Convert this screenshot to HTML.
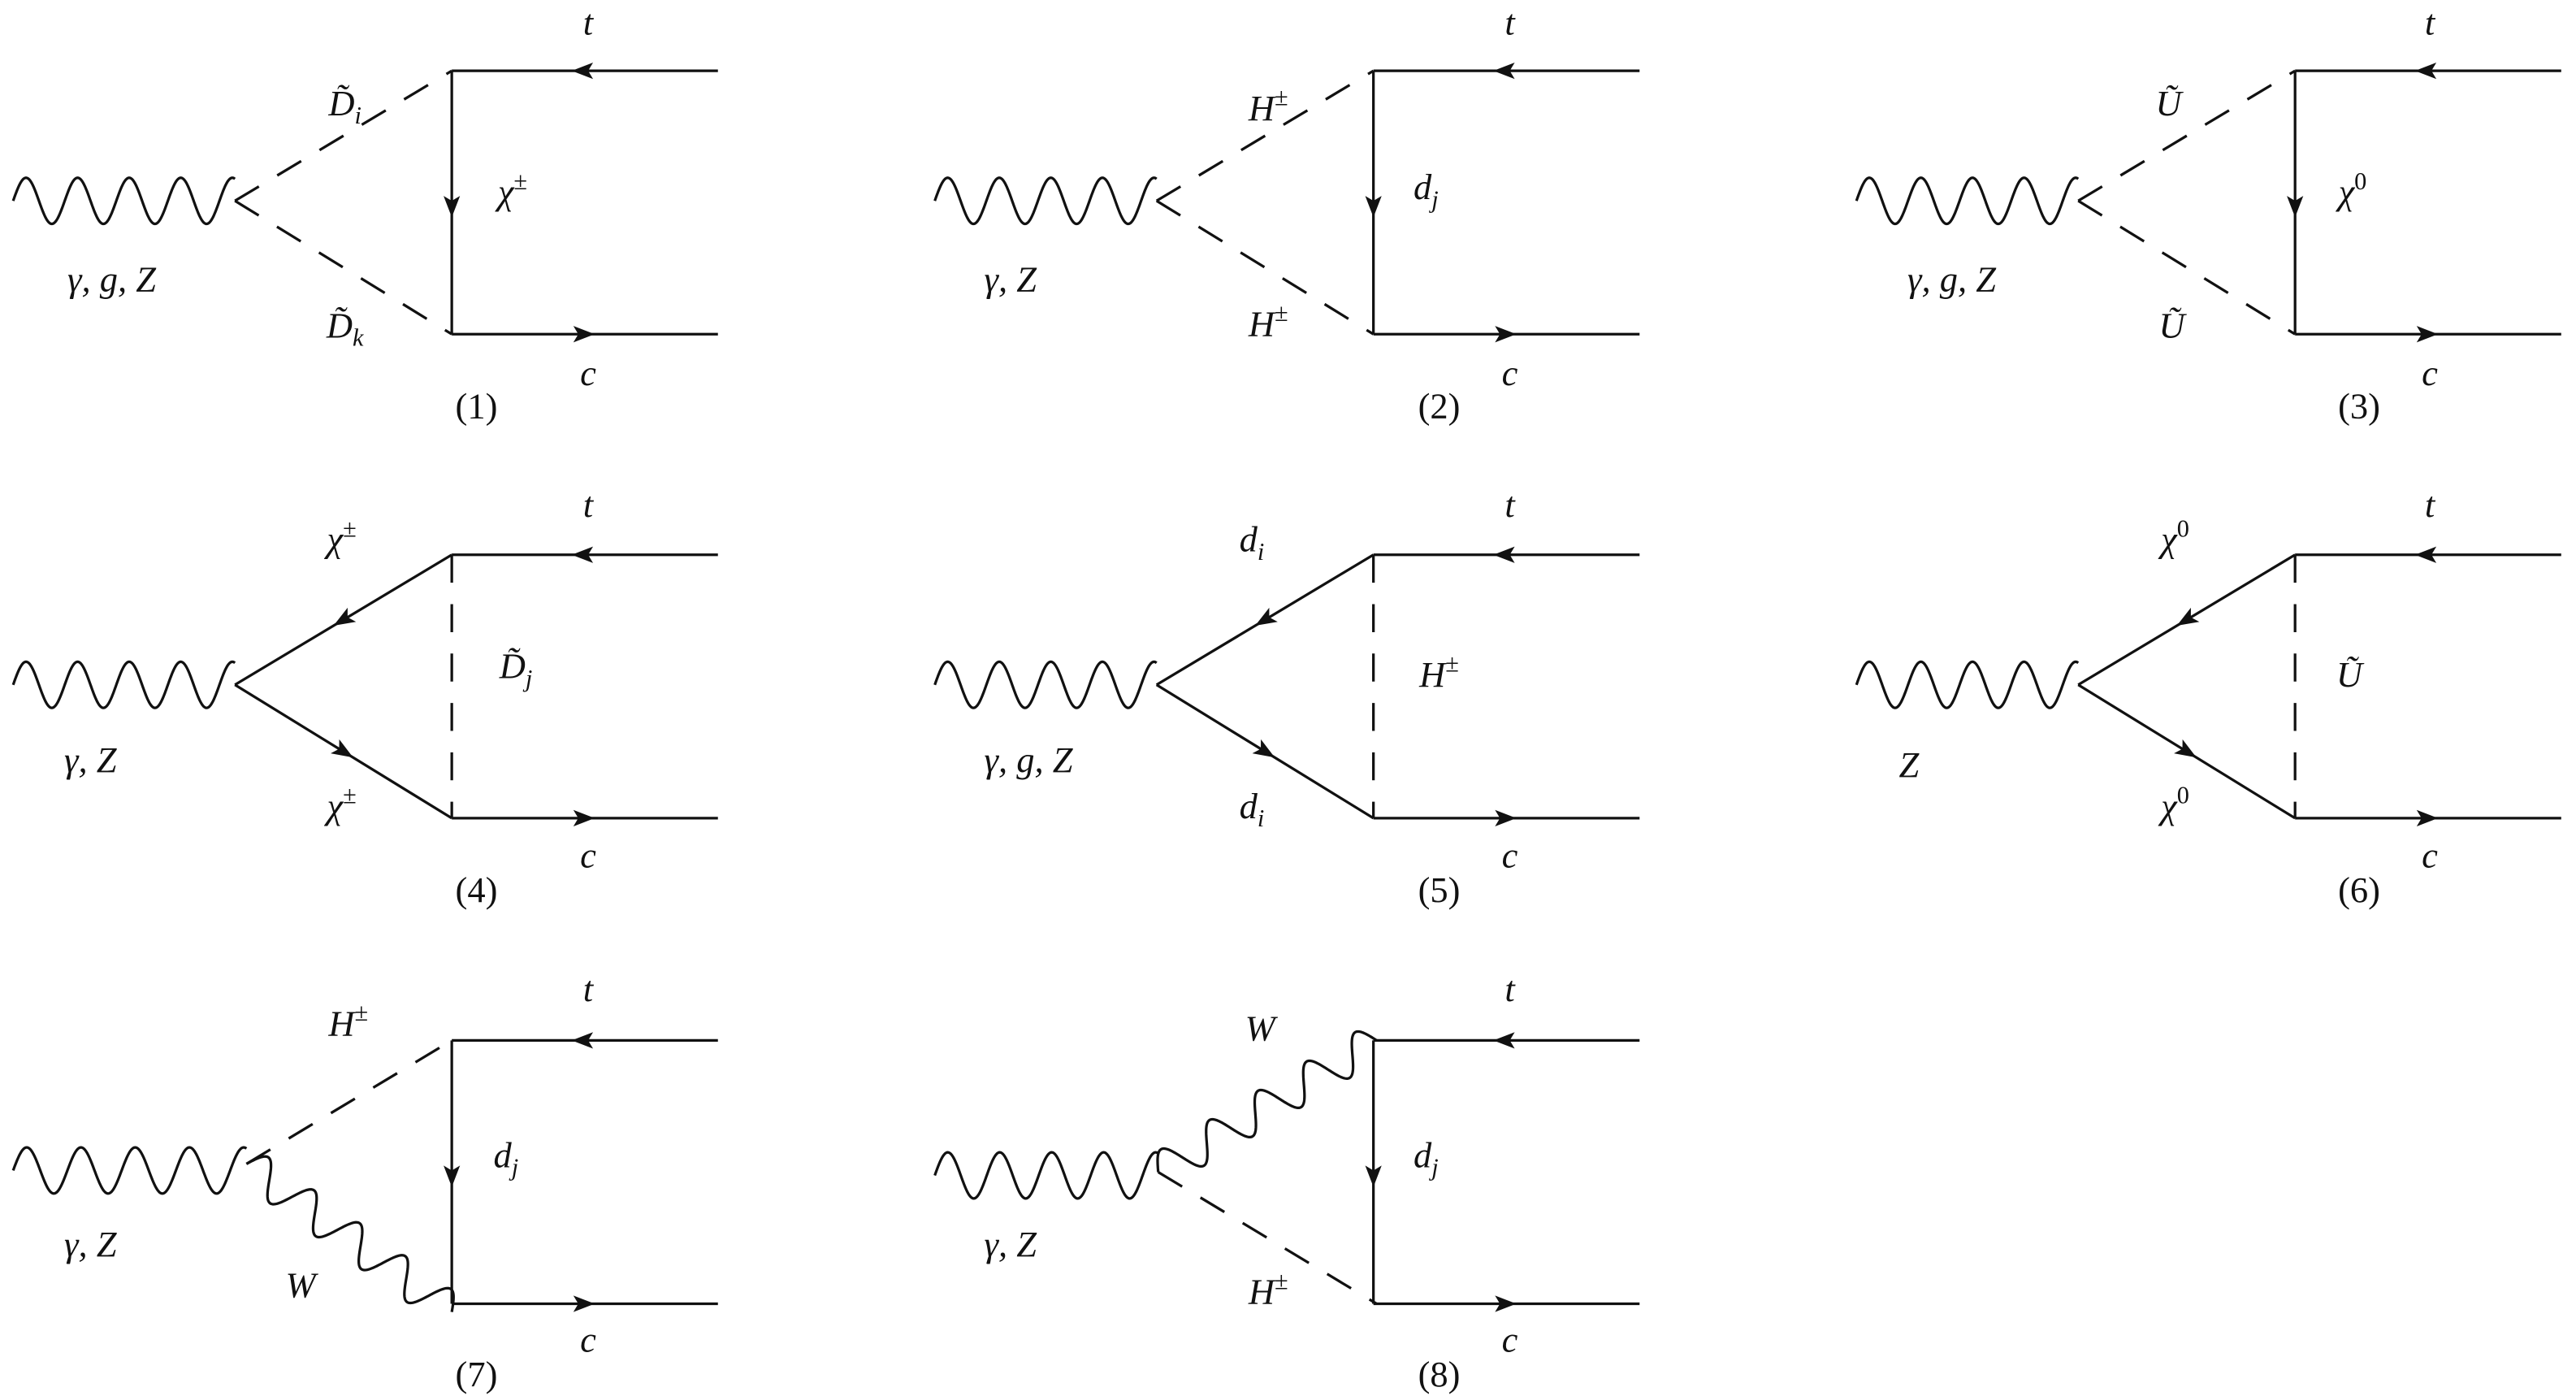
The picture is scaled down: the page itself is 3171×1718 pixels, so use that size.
<!DOCTYPE html>
<html><head><meta charset="utf-8"><style>
html,body{margin:0;padding:0;background:#fff;}
svg{display:block;}
text{font-family:"Liberation Serif",serif;font-style:italic;fill:#111;}
.n{font-style:normal;}
</style></head><body>
<svg id="s" width="3171" height="1718" viewBox="0 0 1568 848" preserveAspectRatio="none" xmlns="http://www.w3.org/2000/svg">
<g id="g" fill="none" stroke="#111" stroke-width="1.6"></g>
<g id="a" fill="#111" stroke="none"></g>
<g font-size="22" text-anchor="middle">
<text x="358" y="21">t</text><text x="358" y="234">c</text>
<text x="312" y="124">χ<tspan font-size="15" dy="-9" class="n">±</tspan></text>
<text x="210" y="70">D̃<tspan font-size="15" dy="5">i</tspan></text>
<text x="210" y="205">D̃<tspan font-size="15" dy="5">k</tspan></text>
<text x="68" y="177">γ, g, Z</text>
<text x="290" y="254" class="n">(1)</text>

<text x="919" y="21">t</text><text x="919" y="234">c</text>
<text x="868" y="121">d<tspan font-size="15" dy="5">j</tspan></text>
<text x="772" y="73">H<tspan font-size="15" dy="-9" class="n">±</tspan></text>
<text x="772" y="204">H<tspan font-size="15" dy="-9" class="n">±</tspan></text>
<text x="615" y="177">γ, Z</text>
<text x="876" y="254" class="n">(2)</text>

<text x="1479" y="21">t</text><text x="1479" y="234">c</text>
<text x="1432" y="124">χ<tspan font-size="15" dy="-9" class="n">0</tspan></text>
<text x="1320" y="70">Ũ</text>
<text x="1322" y="205">Ũ</text>
<text x="1188" y="177">γ, g, Z</text>
<text x="1436" y="254" class="n">(3)</text>

<text x="358" y="314">t</text><text x="358" y="527">c</text>
<text x="208" y="335">χ<tspan font-size="15" dy="-9" class="n">±</tspan></text>
<text x="208" y="497">χ<tspan font-size="15" dy="-9" class="n">±</tspan></text>
<text x="314" y="412">D̃<tspan font-size="15" dy="5">j</tspan></text>
<text x="55" y="469">γ, Z</text>
<text x="290" y="548" class="n">(4)</text>

<text x="919" y="314">t</text><text x="919" y="527">c</text>
<text x="762" y="335">d<tspan font-size="15" dy="5">i</tspan></text>
<text x="762" y="497">d<tspan font-size="15" dy="5">i</tspan></text>
<text x="876" y="417">H<tspan font-size="15" dy="-9" class="n">±</tspan></text>
<text x="626" y="469">γ, g, Z</text>
<text x="876" y="548" class="n">(5)</text>

<text x="1479" y="314">t</text><text x="1479" y="527">c</text>
<text x="1324" y="335">χ<tspan font-size="15" dy="-9" class="n">0</tspan></text>
<text x="1324" y="497">χ<tspan font-size="15" dy="-9" class="n">0</tspan></text>
<text x="1430" y="417">Ũ</text>
<text x="1162" y="472">Z</text>
<text x="1436" y="548" class="n">(6)</text>

<text x="358" y="608">t</text><text x="358" y="821">c</text>
<text x="212" y="629">H<tspan font-size="15" dy="-9" class="n">±</tspan></text>
<text x="183" y="788">W</text>
<text x="308" y="709">d<tspan font-size="15" dy="5">j</tspan></text>
<text x="55" y="763">γ, Z</text>
<text x="290" y="842" class="n">(7)</text>

<text x="919" y="608">t</text><text x="919" y="821">c</text>
<text x="767" y="632">W</text>
<text x="772" y="792">H<tspan font-size="15" dy="-9" class="n">±</tspan></text>
<text x="868" y="709">d<tspan font-size="15" dy="5">j</tspan></text>
<text x="615" y="763">γ, Z</text>
<text x="876" y="842" class="n">(8)</text>
</g>
</svg>
<script>
var g=document.getElementById('g'),A=document.getElementById('a');
var NS='http://www.w3.org/2000/svg';
function el(p,t,at){var e=document.createElementNS(NS,t);for(var k in at)e.setAttribute(k,at[k]);p.appendChild(e);return e;}
function line(x1,y1,x2,y2,dash){var at={x1:x1,y1:y1,x2:x2,y2:y2};if(dash)at['stroke-dasharray']='17 13';el(g,'line',at);}
function wave(x1,y1,x2,y2,n,amp){var dx=x2-x1,dy=y2-y1,L=Math.hypot(dx,dy),ux=dx/L,uy=dy/L,nx=-uy,ny=ux,d='';
for(var i=0;i<=400;i++){var t=i/400,s=amp*Math.sin(t*n*2*Math.PI);var x=x1+dx*t+nx*s,y=y1+dy*t+ny*s;d+=(i?'L':'M')+x.toFixed(2)+' '+y.toFixed(2);}
el(g,'path',{d:d});}
function arrow(x,y,ang){var c=Math.cos(ang),s=Math.sin(ang);function p(a,b){return (x+a*c-b*s).toFixed(2)+','+(y+a*s+b*c).toFixed(2);}
el(A,'polygon',{points:p(7,0)+' '+p(-6,-5)+' '+p(-3,0)+' '+p(-6,5)});}
function box(ox,oy,vdash){
 var X=275+ox,T=43+oy,B=203+oy;
 line(X,T,437+ox,T);line(X,B,437+ox,B);
 arrow(355+ox,T,Math.PI);arrow(355+ox,B,0);
 if(vdash){line(X,T,X,B,true);}else{line(X,T,X,B);arrow(X,125+oy,Math.PI/2);}
}
var cols=[0,561,1122];
for(var c=0;c<3;c++){var ox=cols[c];box(ox,0,false);
 wave(8+ox,122,143+ox,122,4.3,-14);
 line(143+ox,122,275+ox,43,true);line(143+ox,122,275+ox,203,true);}
for(var c=0;c<3;c++){var ox=cols[c],oy=294;box(ox,oy,true);
 wave(8+ox,416,143+ox,416,4.3,-14);
 line(143+ox,416,275+ox,337);line(143+ox,416,275+ox,497);
 var a1=Math.atan2(416-337,143-275);arrow(209+ox,376.5,a1);
 var a2=Math.atan2(497-416,275-143);arrow(209+ox,456.5,a2);}
box(0,589,false);
wave(8,711,150,711,4.3,-14);
line(150,707,275,632,true);
wave(150,707,275,797,4.5,-11);
box(561,589,false);
wave(569,714,705,714,4.3,-14);
wave(705,712,838,632,4.5,-11);
line(705,712,838,792,true);
</script>
</body></html>
